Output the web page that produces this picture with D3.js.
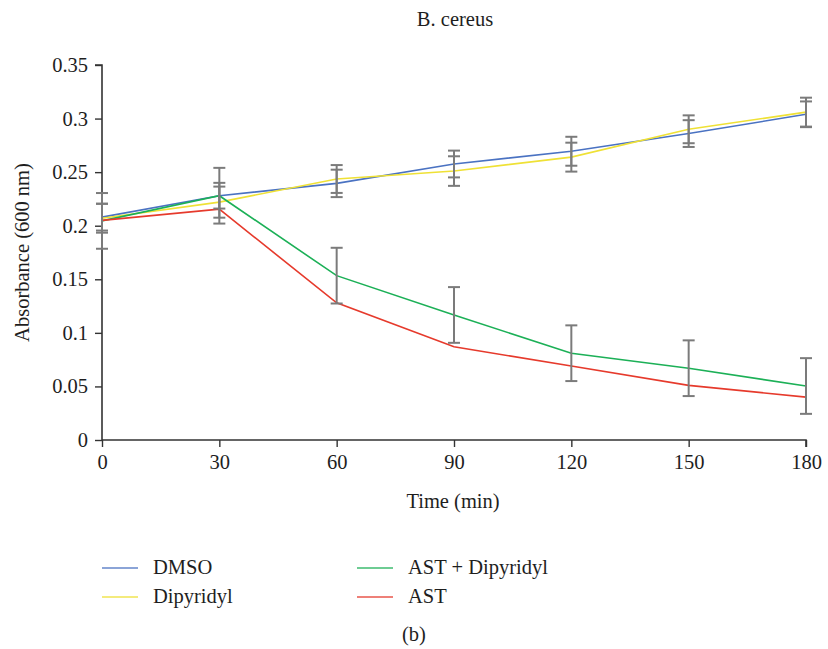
<!DOCTYPE html>
<html>
<head>
<meta charset="utf-8">
<script src="https://cdn.jsdelivr.net/npm/d3@7"></script>
<style>
  html, body { margin: 0; padding: 0; background: #fff; }
  svg { display: block; }
</style>
</head>
<body>
<script>
// Sampling times (min)
const times = [0, 30, 60, 90, 120, 150, 180];

// Absorbance at 600 nm for each treatment
const dmso        = [0.208, 0.228, 0.2395, 0.2576, 0.2695, 0.286, 0.304];
const dipyridyl   = [0.207, 0.222, 0.2436, 0.251, 0.264, 0.290, 0.306];
const astDip      = [0.2045, 0.228, 0.1534, 0.1167, 0.081, 0.067, 0.0504];
const ast         = [0.205, 0.2155, 0.128, 0.087, 0.069, 0.051, 0.040];

// Standard deviations (AST has none drawn)
const dmsoErr      = [0.0125, 0.012, 0.0128, 0.0125, 0.0135, 0.0125, 0.012];
const dipyridylErr = [0.0135, 0.0145, 0.013, 0.0138, 0.0135, 0.013, 0.0135];
const astDipErr    = [0.026, 0.026, 0.026, 0.026, 0.026, 0.026, 0.026];
const astErr       = [null, null, null, null, null, null, null];

const seriesNames  = ["DMSO", "Dipyridyl", "AST + Dipyridyl", "AST"];
const seriesColors = ["#4a72c2", "#efe135", "#1cb057", "#e63a2c"];

const xTicks = [0, 30, 60, 90, 120, 150, 180];
const yTicks = [0, 0.05, 0.1, 0.15, 0.2, 0.25, 0.3, 0.35];

const series = [
  { name: seriesNames[0], color: seriesColors[0], values: dmso, err: dmsoErr },
  { name: seriesNames[1], color: seriesColors[1], values: dipyridyl, err: dipyridylErr },
  { name: seriesNames[2], color: seriesColors[2], values: astDip, err: astDipErr },
  { name: seriesNames[3], color: seriesColors[3], values: ast, err: astErr }
];

const W = 828, H = 649;
const margin = { left: 102, right: 22, top: 65, bottom: 209 };
const FONT = "'Liberation Serif', 'Times New Roman', 'DejaVu Serif', serif";
const FS = "20.5px";

const svg = d3.select("body").append("svg").attr("width", W).attr("height", H)
  .attr("font-family", FONT);

const x = d3.scaleLinear().domain([0, 180]).range([margin.left, W - margin.right]);
const y = d3.scaleLinear().domain([0, 0.35]).range([H - margin.bottom, margin.top]);

function label(sel) {
  return sel.attr("font-family", FONT).style("font-family", FONT)
    .style("font-size", FS).attr("fill", "#1e1e1e");
}

// Title
label(svg.append("text")).attr("x", 455).attr("y", 26).attr("text-anchor", "middle")
  .text("B. cereus");

// Axes
const axisColor = "#333";
const yAxis = svg.append("g").attr("transform", `translate(${margin.left},0)`)
  .call(d3.axisLeft(y).tickValues(yTicks).tickSize(7).tickPadding(7)
    .tickFormat(d => String(+d.toFixed(2))));
const xAxis = svg.append("g").attr("transform", `translate(0,${y(0)})`)
  .call(d3.axisBottom(x).tickValues(xTicks).tickSize(7).tickPadding(7));

[yAxis, xAxis].forEach(g => {
  g.attr("font-family", FONT);
  g.select(".domain").attr("stroke", axisColor).attr("stroke-width", 1.6);
  g.selectAll(".tick line").attr("stroke", axisColor).attr("stroke-width", 1.4);
  label(g.selectAll(".tick text"));
});
// Axis lines meet at the origin; top tick and right tick close the frame ends
yAxis.select(".domain").attr("d", `M-7,${y(0.35)}H0V${y(0)}`);
xAxis.select(".domain").attr("d", `M${x(0)},0H${x(180)}V7`);

// Axis titles
label(svg.append("text")).attr("x", 453).attr("y", 508).attr("text-anchor", "middle")
  .text("Time (min)");
label(svg.append("text"))
  .attr("transform", `translate(29,${(y(0) + y(0.35)) / 2}) rotate(-90)`)
  .attr("text-anchor", "middle").text("Absorbance (600 nm)");

// Lines
const line = d3.line().x((d, i) => x(times[i])).y(d => y(d));
series.forEach(s => {
  svg.append("path").datum(s.values).attr("d", line)
    .attr("fill", "none").attr("stroke", s.color).attr("stroke-width", 1.6);
});

// Error bars
const errColor = "#7b7b7b";
const capHalf = 6;
series.forEach(s => {
  const g = svg.append("g").attr("stroke", errColor).attr("stroke-width", 2);
  s.values.forEach((v, i) => {
    const e = s.err[i];
    if (e == null) return;
    const cx = x(times[i]), y1 = y(v + e), y2 = y(v - e);
    g.append("line").attr("x1", cx).attr("x2", cx).attr("y1", y1).attr("y2", y2);
    g.append("line").attr("x1", cx - capHalf).attr("x2", cx + capHalf).attr("y1", y1).attr("y2", y1);
    g.append("line").attr("x1", cx - capHalf).attr("x2", cx + capHalf).attr("y1", y2).attr("y2", y2);
  });
});

// Legend (two columns)
const legendPos = [
  { lx: 102, ty: 568 }, { lx: 102, ty: 597 },
  { lx: 357, ty: 568 }, { lx: 357, ty: 597 }
];
series.forEach((s, i) => {
  const p = legendPos[i];
  svg.append("line").attr("x1", p.lx).attr("x2", p.lx + 36).attr("y1", p.ty).attr("y2", p.ty)
    .attr("stroke", s.color).attr("stroke-width", 1.6).attr("opacity", 0.85);
  label(svg.append("text")).attr("x", p.lx + 51).attr("y", p.ty + 5.5).text(s.name);
});

// Panel label
label(svg.append("text")).attr("x", 414).attr("y", 641).attr("text-anchor", "middle")
  .text("(b)");
</script>
</body>
</html>
